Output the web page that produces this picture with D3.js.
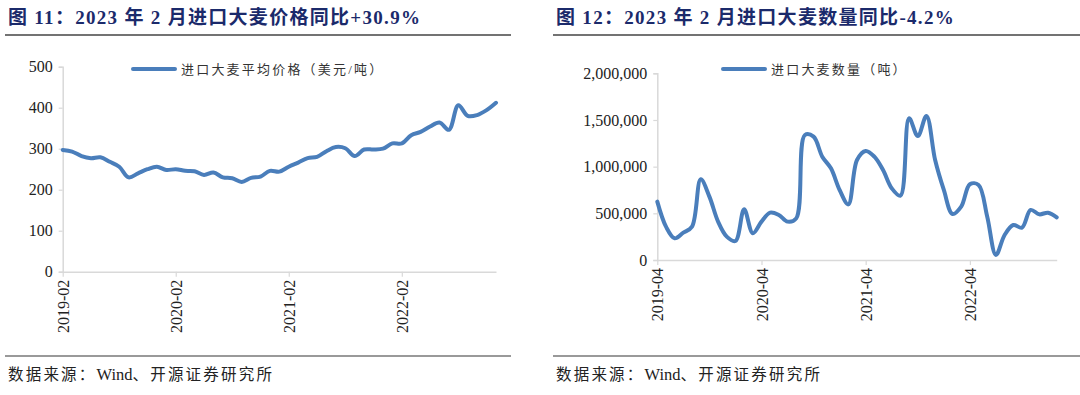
<!DOCTYPE html>
<html><head><meta charset="utf-8">
<script src="https://cdn.jsdelivr.net/npm/d3@7"></script>
<style>
body{margin:0;background:#fff;}
svg{display:block;}
</style></head><body>
<svg id="c" width="1080" height="395"></svg>
<script>
// ---- data ----
const priceMonths = [];
(function(){let y=2019,m=2;for(let i=0;i<47;i++){priceMonths.push(y+"-"+String(m).padStart(2,"0"));m++;if(m>12){m=1;y++;}}})();
const priceValues = [297,293,282,277,279,268,256,230,240,250,256,248,250,246,245,236,242,230,228,219,229,232,246,244,256,266,277,280,294,304,301,282,298,298,300,313,313,333,341,354,364,346,406,380,382,394,412];
const priceTicks = ["2019-02","2020-02","2021-02","2022-02"];
const priceYTicks = [0,100,200,300,400,500];

const qtyMonths = [];
(function(){let y=2019,m=4;for(let i=0;i<47;i++){qtyMonths.push(y+"-"+String(m).padStart(2,"0"));m++;if(m>12){m=1;y++;}}})();
const qtyValues = [625000,357000,232000,293000,357000,864000,679000,411000,250000,204000,543000,286000,411000,507000,482000,411000,446000,1339000,1321000,1107000,982000,750000,596000,1071000,1168000,1107000,964000,768000,689000,1518000,1328000,1543000,1071000,750000,493000,571000,811000,804000,464000,54000,268000,375000,346000,536000,489000,507000,457000];
const qtyTicks = ["2019-04","2020-04","2021-04","2022-04"];
const qtyYTicks = [0,500000,1000000,1500000,2000000];

const titles = ["图 11：2023 年 2 月进口大麦价格同比+30.9%","图 12：2023 年 2 月进口大麦数量同比-4.2%"];
const legends = ["进口大麦平均价格（美元/吨）","进口大麦数量（吨）"];
const sourceParts = ["数据来源：","Wind","、开源证券研究所"];

const svg = d3.select("#c");
const SERIF = "'Liberation Serif','Times New Roman','Noto Sans CJK SC',serif";
const CJK = "'Liberation Serif','Noto Sans CJK SC',serif";
const LINE = "#4a7ebb";

function panel(o){
  const g = svg.append("g");
  // title
  g.append("text").attr("x",o.tx).attr("y",24).text(o.title)
    .attr("font-family",CJK).attr("font-weight","bold").attr("font-size",19)
    .attr("fill","#1b2a6b").attr("letter-spacing",1.3);
  g.append("line").attr("x1",o.lx1).attr("x2",o.lx2).attr("y1",35).attr("y2",35)
    .attr("stroke","#444").attr("stroke-width",1.3);
  g.append("line").attr("x1",o.lx1).attr("x2",o.lx2).attr("y1",356).attr("y2",356)
    .attr("stroke","#777").attr("stroke-width",1.5);
  const src = g.append("text").attr("x",o.tx).attr("y",380)
    .attr("font-family",CJK).attr("font-size",15.5).attr("fill","#222");
  src.append("tspan").text(sourceParts[0]).attr("letter-spacing",2.2);
  src.append("tspan").text(sourceParts[1]).attr("font-size",16.5);
  src.append("tspan").text(sourceParts[2]).attr("letter-spacing",2.2);

  const x = d3.scalePoint().domain(o.cats).range([o.x0,o.x1]);
  const y = d3.scaleLinear().domain([0,o.ymax]).range([o.y0,o.y1]);

  const yAx = g.append("g").attr("transform",`translate(${o.x0},0)`)
    .call(d3.axisLeft(y).tickValues(o.yticks).tickSize(4).tickPadding(6).tickFormat(o.fmt));
  yAx.select(".domain").attr("stroke","#d9d9d9").attr("stroke-width",1.5);
  yAx.selectAll(".tick line").attr("stroke","#d9d9d9").attr("stroke-width",1.2);
  yAx.selectAll("text").attr("font-family",SERIF).attr("font-size",16).attr("fill","#222");

  const xAx = g.append("g").attr("transform",`translate(0,${o.y0})`)
    .call(d3.axisBottom(x).tickValues(o.xticks).tickSize(5).tickSizeOuter(0));
  xAx.select(".domain").attr("stroke","#d9d9d9").attr("stroke-width",1.5);
  xAx.selectAll(".tick line").attr("stroke","#d9d9d9").attr("stroke-width",1.2);
  xAx.selectAll("text").attr("font-family",SERIF).attr("font-size",16).attr("fill","#222")
    .attr("transform","rotate(-90)").attr("text-anchor","end").attr("dx","-8").attr("dy","0.35em").attr("y",0).attr("x",0);

  const line = d3.line().x((d,i)=>x(o.cats[i])).y(d=>y(d)).curve(d3.curveCatmullRom.alpha(0.5));
  g.append("path").datum(o.vals).attr("d",line).attr("fill","none")
    .attr("stroke",LINE).attr("stroke-width",4).attr("stroke-linejoin","round").attr("stroke-linecap","round");

  // legend
  g.append("line").attr("x1",o.lgx).attr("x2",o.lgx+42).attr("y1",o.lgy).attr("y2",o.lgy)
    .attr("stroke",LINE).attr("stroke-width",4).attr("stroke-linecap","round");
  g.append("text").attr("x",o.lgx+48).attr("y",o.lgy+5).text(o.legend)
    .attr("font-family",CJK).attr("font-size",13).attr("fill","#333").attr("letter-spacing",2.2);
}

panel({title:titles[0],legend:legends[0],tx:8,lx1:5,lx2:511,
  cats:priceMonths,vals:priceValues,xticks:priceTicks,yticks:priceYTicks,ymax:500,
  x0:62.7,x1:496,y0:271.7,y1:66.7,fmt:d3.format("d"),lgx:133,lgy:69});
panel({title:titles[1],legend:legends[1],tx:556,lx1:553,lx2:1080,
  cats:qtyMonths,vals:qtyValues,xticks:qtyTicks,yticks:qtyYTicks,ymax:2000000,
  x0:657.3,x1:1056.7,y0:260,y1:73.3,fmt:d3.format(","),lgx:723,lgy:69});
</script>
</body></html>
